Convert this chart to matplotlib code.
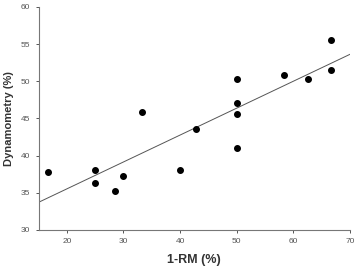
import matplotlib
matplotlib.use('Agg')
import matplotlib.pyplot as plt
import numpy as np

plt.rcParams['font.family'] = ['Liberation Sans', 'DejaVu Sans']

rm = [16.7, 25, 25, 28.5, 30, 33.3, 40, 42.8, 50, 50, 50, 50, 58.3, 62.5, 66.7, 66.7]
dyn = [37.8, 38.0, 36.3, 35.3, 37.2, 45.8, 38.1, 43.6, 50.3, 47.1, 45.6, 41.0, 50.9, 50.3, 55.5, 51.5]

fig = plt.figure(figsize=(3.55, 2.67), dpi=100)
ax = fig.add_axes([0.1085, 0.139, 0.8775, 0.835])

m, b = np.polyfit(rm, dyn, 1)
xl = np.array([15, 70])
ax.plot(xl, m * xl + b, color='#555555', lw=0.7)
ax.plot(rm, dyn, 'o', color='black', ms=4)

ax.set_xlim(15, 70)
ax.set_ylim(30, 60)
ax.set_xticks([20, 30, 40, 50, 60, 70])
ax.set_yticks([30, 35, 40, 45, 50, 55, 60])
for s in ['top', 'right']:
    ax.spines[s].set_visible(False)
for s in ['left', 'bottom']:
    ax.spines[s].set_color('#777777')
    ax.spines[s].set_linewidth(0.8)
ax.tick_params(labelsize=6, colors='#555555', length=2.5, width=0.7)
ax.set_xlabel('1-RM (%)', fontsize=9, fontweight='bold', color='#333333', labelpad=6)
ax.set_ylabel('Dynamometry (%)', fontsize=8, fontweight='bold', color='#333333', labelpad=5)

fig.savefig('out.png', dpi=100)
